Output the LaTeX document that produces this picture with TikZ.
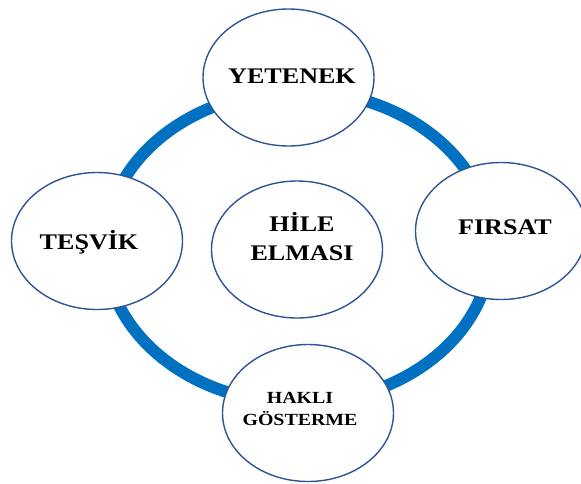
\documentclass[tikz,border=0pt]{standalone}
\usepackage{fontspec}
\usetikzlibrary{shapes.geometric}
\newfontfamily\lblfont{Liberation Serif}[FakeStretch=1.17]
\definecolor{ringblue}{HTML}{0070C0}
\definecolor{rimblue}{HTML}{2F5597}
\begin{document}
\begin{tikzpicture}[x=1pt,y=-1pt,
  ring/.style={draw=ringblue,line width=12pt},
  bubble/.style={ellipse,draw=rimblue,line width=1.4pt,fill=white,
    minimum width=171pt,minimum height=137pt,inner sep=0pt},
  lbl/.style={font=\lblfont\bfseries\fontsize{22.3}{29}\selectfont,
    align=center,inner sep=0pt,text=black},
  small/.style={font=\lblfont\bfseries\fontsize{17}{22}\selectfont,
    align=center,inner sep=0pt,text=black}]
\useasboundingbox (0,0) rectangle (581,483);
% the cycle ring behind the bubbles
\coordinate (ringc) at (298,247);
\draw[ring] (ringc) ellipse [x radius=193, y radius=156];
% bubbles
\node[bubble] (yetenek) at (288.5,77.5) {};
\node[bubble] (tesvik) at (97,241) {};
\node[bubble] (hile) at (297,249.5) {};
\node[bubble] (firsat) at (501,231) {};
\node[bubble] (hakli) at (308,413) {};
% labels
\node[lbl] (tyetenek) at (292,76) {YETENEK};
\node[lbl] (ttesvik) at (89,242) {TEŞVİK};
\node[lbl] (thile) at (302,237) {HİLE\\ELMASI};
\node[lbl] (tfirsat) at (505,227) {FIRSAT};
\node[small] (thakli) at (300,409) {HAKLI\\GÖSTERME};
\end{tikzpicture}
\end{document}
